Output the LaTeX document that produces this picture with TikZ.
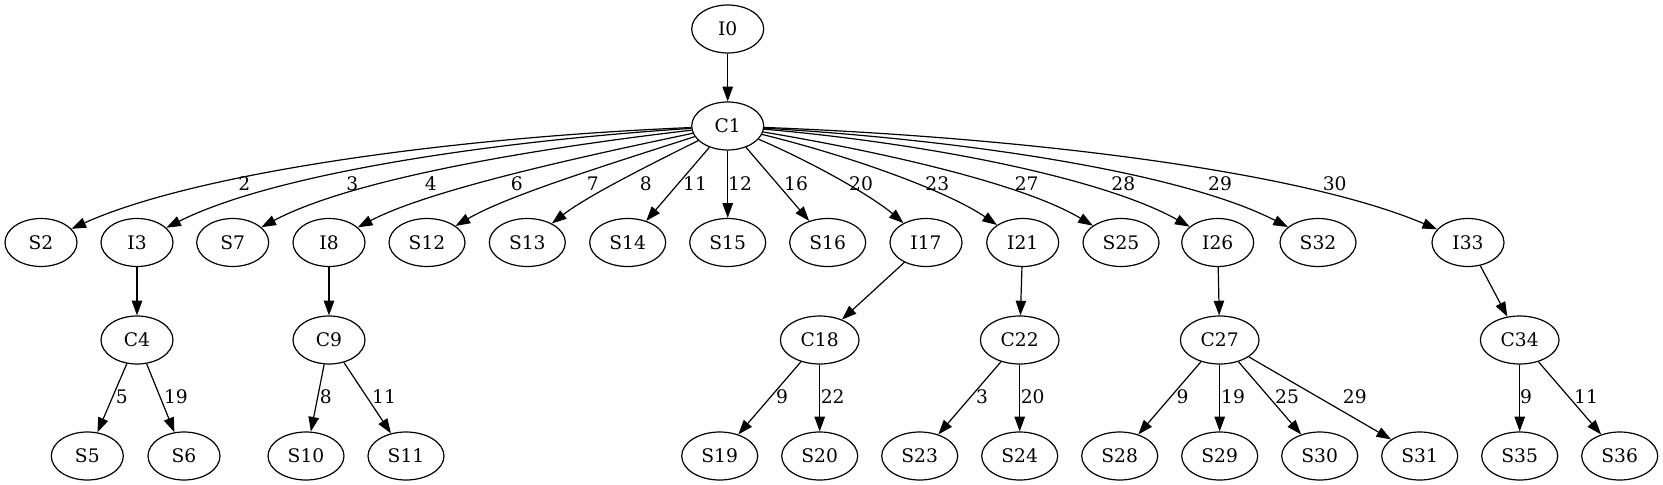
\documentclass[tikz,border=0pt]{standalone}
\usepackage{fontspec}
\setmainfont{DejaVu Serif}
\usetikzlibrary{arrows.meta,shapes.geometric}
\tikzset{
  gv/.style={draw, ellipse, minimum height=36pt, inner sep=1pt, line width=0.9pt,
             font=\fontsize{14}{16}\selectfont},
  lbl/.style={inner sep=0pt, font=\fontsize{14}{16}\selectfont},
  arr/.style={line width=0.9pt, -{Triangle[length=11pt,width=7.8pt]}}
}
\begin{document}
\begin{tikzpicture}[x=0.75pt,y=-0.75pt]
    \useasboundingbox (0,0) rectangle (1663,485);

    \node[gv, minimum width=54pt] (I0) at (727.7,29) {I0};
    \node[gv, minimum width=54pt] (C1) at (727.7,126) {C1};
    \draw[arr] (I0) -- (C1);

    \foreach \n/\x/\w in {S2/41/54, I3/137/54, S7/232.7/54, I8/329/54, S12/427/57,
                          S13/527.3/57, S14/627.7/57, S15/727.7/57, S16/827.7/57, I17/926/54,
                          I21/1022.7/54, S25/1121/57, I26/1217.7/54, S32/1318/57, I33/1468/54} {
      \node[gv, minimum width=\w pt] (\n) at (\x,242.5) {\n};
    }
    \foreach \n/\x/\w in {C4/137/54, C9/329/54, C18/819.7/59, C22/1019.7/59,
                          C27/1219.7/59, C34/1519.7/59} {
      \node[gv, minimum width=\w pt] (\n) at (\x,340) {\n};
    }
    \foreach \n/\x/\w in {S5/87.3/54, S6/184/54, S10/306/57, S11/406/57, S19/719.7/57,
                          S20/819.7/57, S23/919.7/57, S24/1019.7/57, S28/1119.7/57,
                          S29/1219.7/57, S30/1319.7/57, S31/1419.7/57, S35/1519.7/57,
                          S36/1619.7/57} {
      \node[gv, minimum width=\w pt] (\n) at (\x,456) {\n};
    }

    \foreach \t/\ax/\ay/\bx/\by/\l/\lx in {
        S2/442/138/193/174/2/244.3, I3/482/142/271/175/3/352.3,
        S7/521/150/348/181/4/430.7, I8/560/161/425/192/6/516.7,
        S12/602/166.5/507/196/7/592.7, S13/643/168/586/197/8/645.7,
        I17/814/163/872.6/196.6/20/861, I21/854/157/948/191.6/23/937.3,
        S25/894/154/1025.8/185.5/27/1026.7, I26/934/144/1105.8/179.5/28/1123.3,
        S32/973.7/140.5/1184.4/173.8/29/1220, I33/1033/137.8/1303/172.1/30/1334.7} {
      \draw[arr] (C1) .. controls (\ax,\ay) and (\bx,\by) .. (\t);
      \node[lbl] (l\t) at (\lx,183.3) {\l};
    }
    \foreach \t/\l/\lx in {S14/11/695, S15/12/740, S16/16/796} {
      \draw[arr] (C1) -- (\t);
      \node[lbl] (l\t) at (\lx,183.3) {\l};
    }

    \foreach \a/\b in {I3/C4, I8/C9, I17/C18, I21/C22, I26/C27, I33/C34} {
      \draw[arr] (\a) -- (\b);
    }

    \foreach \a/\b/\l/\lx in {C4/S5/5/121.7, C4/S6/19/176, C9/S10/8/325.7, C9/S11/11/384,
                              C18/S19/9/782, C18/S20/22/832.7, C22/S23/3/982,
                              C22/S24/20/1032.7, C27/S28/9/1182.6, C27/S29/19/1233,
                              C27/S30/25/1287, C27/S31/29/1354.8, C34/S35/9/1526,
                              C34/S36/11/1586} {
      \draw[arr] (\a) -- (\b);
      \node[lbl] (l\b) at (\lx,396.7) {\l};
    }
  \end{tikzpicture}
\end{document}
